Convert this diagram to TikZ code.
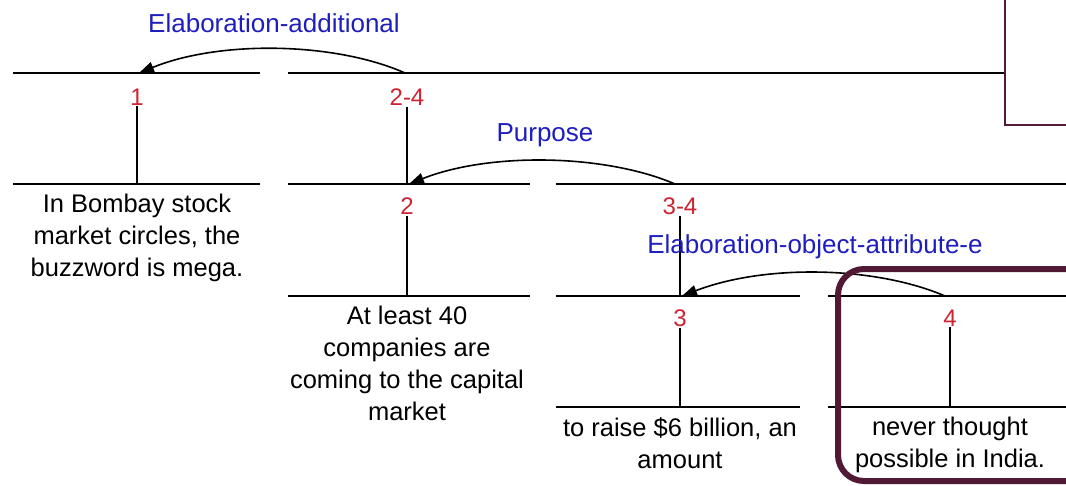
\documentclass[tikz,border=0pt]{standalone}
\usepackage{fontspec}
\setmainfont{Liberation Sans}
\usetikzlibrary{arrows.meta}
\definecolor{numred}{RGB}{205,35,50}
\definecolor{relblue}{RGB}{30,30,190}
\definecolor{boxmaroon}{RGB}{82,25,55}
\tikzset{
  seg/.style={line width=1.8pt},
  stem/.style={line width=1.6pt},
  num/.style={text=numred,inner sep=1pt,font=\fontsize{24}{30}\selectfont},
  rel/.style={text=relblue,inner sep=0pt,font=\fontsize{26}{30}\selectfont},
  leaf/.style={align=center,anchor=north,inner sep=0pt,font=\fontsize{25.5}{32}\selectfont},
  arc/.style={line width=1.6pt,-{Triangle[length=15pt,width=11pt]}},
}
\begin{document}
\begin{tikzpicture}[x=1pt,y=-1pt]
\useasboundingbox (0,0) rectangle (1066,485);
% horizontal spans
\draw[seg] (13,73) -- (260,73);
\draw[seg] (288,73) -- (1005,73);
\draw[seg] (13,184) -- (260,184);
\draw[seg] (288,184) -- (530,184);
\draw[seg] (556,184) -- (1066,184);
\draw[seg] (288,296) -- (530,296);
\draw[seg] (556,296) -- (800,296);
\draw[seg] (828,296) -- (1066,296);
\draw[seg] (556,407) -- (800,407);
\draw[seg] (828,407) -- (1066,407);
% attachment points
\coordinate (t1) at (139,73);
\coordinate (t24) at (405,73);
\coordinate (b1) at (137,184);
\coordinate (t2) at (409,184);
\coordinate (t34) at (675,184);
\coordinate (b34) at (682,296);
\coordinate (b2) at (407,296);
\coordinate (t4) at (945,296);
\coordinate (b3) at (680,407);
\coordinate (b4) at (950,407);
% number labels
\node[num] (n1) at (137,97) {1};
\node[num] (n24) at (407,97) {2-4};
\node[num] (n2) at (407,206) {2};
\node[num] (n34) at (680,206) {3-4};
\node[num] (n3) at (680,318) {3};
\node[num] (n4) at (950,318) {4};
% stems
\draw[stem] (n1.south) -- (b1);
\draw[stem] (n24.south) -- (n24.south |- t2);
\draw[stem] (n2.south) -- (b2);
\draw[stem] (n34.south) -- (n34.south |- b34);
\draw[stem] (n3.south) -- (b3);
\draw[stem] (n4.south) -- (b4);
% leaves
\node[leaf] (l1) at (137,194) {In Bombay stock\\market circles, the\\buzzword is mega.};
\node[leaf] (l2) at (407,306) {At least 40\\companies are\\coming to the capital\\market};
\node[leaf] (l3) at (680,417) {to raise \$6 billion, an\\amount};
\node[leaf] (l4) at (950,417) {never thought\\possible in India.};
% relations
\node[rel] (r1) at (274,23) {Elaboration-additional};
\node[rel] (r2) at (545,135) {Purpose};
\node[rel] (r3) at (815,247) {Elaboration-object-attribute-e};
\draw[arc] (t24) .. controls (335,42) and (220,40) .. (t1);
\draw[arc] (t34) .. controls (605,154) and (490,152) .. (t2);
\draw[arc] (t4) .. controls (875,266) and (765,264) .. (b34);
% highlight boxes
\draw[boxmaroon,line width=2pt] (1005,-5) |- (1075,125);
\draw[boxmaroon,line width=6pt,rounded corners=26pt] (1090,269) -- (838,269) -- (838,481) -- (1090,481);
\end{tikzpicture}
\end{document}
